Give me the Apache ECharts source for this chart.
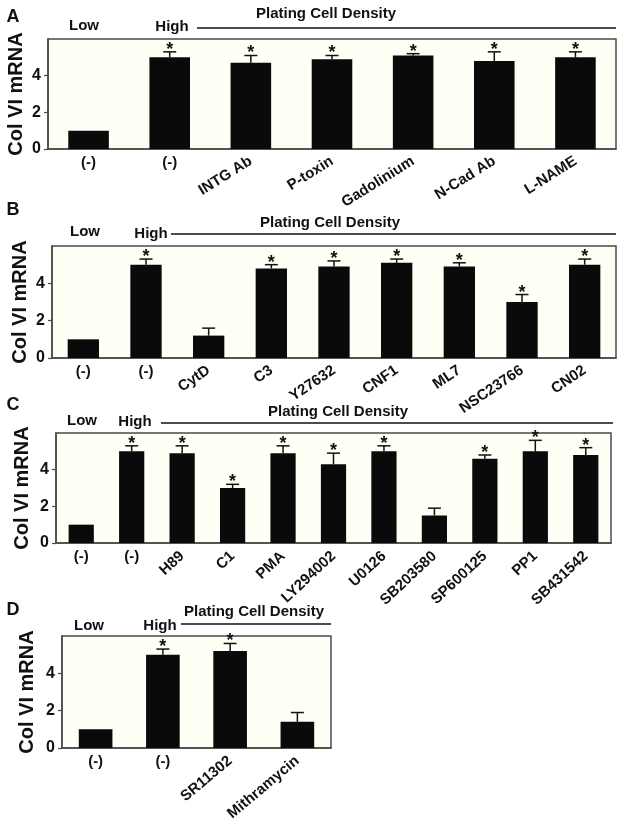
<!DOCTYPE html>
<html><head><meta charset="utf-8">
<script src="https://cdn.jsdelivr.net/npm/echarts@6/dist/echarts.min.js"></script>
<style>html,body{margin:0;padding:0;background:#fff}#c{width:624px;height:825px}</style>
</head><body><div id="c"></div>
<script>
// ---- data ----
const catsA = ['(-)', '(-)', 'INTG Ab', 'P-toxin', 'Gadolinium', 'N-Cad Ab', 'L-NAME'];
const valsA = [1.0, 5.0, 4.7, 4.9, 5.1, 4.8, 5.0];
const errA  = [0, 0.3, 0.4, 0.2, 0.1, 0.5, 0.3];
const sigA  = [0, 1, 1, 1, 1, 1, 1];

const catsB = ['(-)', '(-)', 'CytD', 'C3', 'Y27632', 'CNF1', 'ML7', 'NSC23766', 'CN02'];
const valsB = [1.0, 5.0, 1.2, 4.8, 4.9, 5.1, 4.9, 3.0, 5.0];
const errB  = [0, 0.3, 0.4, 0.2, 0.3, 0.2, 0.2, 0.4, 0.3];
const sigB  = [0, 1, 0, 1, 1, 1, 1, 1, 1];

const catsC = ['(-)', '(-)', 'H89', 'C1', 'PMA', 'LY294002', 'U0126', 'SB203580', 'SP600125', 'PP1', 'SB431542'];
const valsC = [1.0, 5.0, 4.9, 3.0, 4.9, 4.3, 5.0, 1.5, 4.6, 5.0, 4.8];
const errC  = [0, 0.3, 0.4, 0.2, 0.4, 0.6, 0.3, 0.4, 0.2, 0.6, 0.4];
const sigC  = [0, 1, 1, 1, 1, 1, 1, 0, 1, 1, 1];

const catsD = ['(-)', '(-)', 'SR11302', 'Mithramycin'];
const valsD = [1.0, 5.0, 5.2, 1.4];
const errD  = [0, 0.3, 0.4, 0.5];
const sigD  = [0, 1, 1, 0];

const yTicks = [0, 2, 4, 6];
const yTitle = 'Col VI mRNA';
const groupTitle = 'Plating Cell Density';
const lowText = 'Low', highText = 'High';
const panelLetters = ['A', 'B', 'C', 'D'];

// ---- layout ----
const FONT = "'Liberation Sans', Arial, Helvetica, sans-serif";
const INK = '#111';
const FRAME = '#4a4a4a';
const panels = [
  {cats: catsA, vals: valsA, errs: errA, sig: sigA, grid: {left: 48, top: 39, width: 568, height: 110}, rot: 32, gap: 22},
  {cats: catsB, vals: valsB, errs: errB, sig: sigB, grid: {left: 52, top: 246, width: 564, height: 112}, rot: 34, gap: 22},
  {cats: catsC, vals: valsC, errs: errC, sig: sigC, grid: {left: 56, top: 433, width: 555, height: 110}, rot: 43, gap: 24},
  {cats: catsD, vals: valsD, errs: errD, sig: sigD, grid: {left: 62, top: 636, width: 269, height: 112}, rot: 40, gap: 25}
];
const annot = [
  {letter: [13, 17], title: [326, 14], low: [84, 26], high: [172, 27], line: [197, 616, 28]},
  {letter: [13, 210], title: [330, 223], low: [85, 232], high: [151, 234], line: [171, 616, 234]},
  {letter: [13, 405], title: [338, 412], low: [82, 421], high: [135, 422], line: [161, 613, 423]},
  {letter: [13, 610], title: [254, 612], low: [89, 626], high: [160, 626], line: [181, 331, 624]}
];

const grids = [], xAxes = [], yAxes = [], series = [], graphics = [];
panels.forEach((p, i) => {
  grids.push(Object.assign({show: true, backgroundColor: '#fffff6', borderColor: FRAME, borderWidth: 1.5,
    containLabel: false, outerBoundsMode: 'none'}, p.grid));
  const lblBase = {interval: 0, fontSize: 15, fontWeight: 'bold', color: INK, fontFamily: FONT};
  xAxes.push({
    type: 'category', gridIndex: i, data: p.cats, position: 'bottom',
    axisLine: {show: true, lineStyle: {color: FRAME, width: 1.5}},
    axisTick: {show: false},
    axisLabel: Object.assign({}, lblBase, {margin: 6, formatter: v => v === '(-)' ? v : ''})
  });
  xAxes.push({
    type: 'category', gridIndex: i, data: p.cats, position: 'bottom',
    axisLine: {show: false}, axisTick: {show: false},
    axisLabel: Object.assign({}, lblBase, {margin: 11, rotate: p.rot, formatter: v => v === '(-)' ? '' : v})
  });
  yAxes.push({
    type: 'value', gridIndex: i, min: yTicks[0], max: yTicks[yTicks.length - 1], interval: yTicks[1] - yTicks[0],
    axisLine: {show: true, lineStyle: {color: FRAME, width: 1.5}},
    axisTick: {show: true, length: 4, lineStyle: {color: FRAME, width: 1.2}},
    splitLine: {show: false},
    axisLabel: {showMaxLabel: false, margin: 7, fontSize: 16, fontWeight: 'bold', color: INK, fontFamily: FONT},
    name: yTitle, nameLocation: 'middle', nameGap: p.gap, nameMoveOverlap: false,
    nameTextStyle: {fontSize: 20, fontWeight: 'bold', color: INK, fontFamily: FONT}
  });
  series.push({
    type: 'bar', xAxisIndex: 2 * i, yAxisIndex: i, data: p.vals, barWidth: '50%',
    itemStyle: {color: '#0a0a0a'}, silent: true
  });
  series.push({
    type: 'custom', xAxisIndex: 2 * i, yAxisIndex: i, z: 10, silent: true,
    encode: {x: 0, y: 1},
    data: p.cats.map((c, j) => [j, p.vals[j], p.errs[j], p.sig[j]]),
    renderItem: function (params, api) {
      const idx = api.value(0), v = api.value(1), e = api.value(2), s = api.value(3);
      const top = api.coord([idx, v + e]);
      const base = api.coord([idx, v]);
      const children = [];
      if (e > 0) {
        children.push({type: 'line', shape: {x1: top[0], y1: base[1], x2: top[0], y2: top[1]}, style: {stroke: '#111', lineWidth: 1.5}});
        children.push({type: 'line', shape: {x1: top[0] - 6.5, y1: top[1], x2: top[0] + 6.5, y2: top[1]}, style: {stroke: '#111', lineWidth: 1.5}});
      }
      if (s) {
        children.push({type: 'text', style: {text: '*', x: top[0], y: top[1] - 11, align: 'center', verticalAlign: 'top',
          textAlign: 'center', textVerticalAlign: 'top', font: 'bold 18px ' + FONT, fill: '#111'}});
      }
      return {type: 'group', children: children};
    }
  });
  const a = annot[i];
  const txt = (t, pos, size) => ({type: 'text', x: pos[0], y: pos[1], silent: true,
    style: {text: t, align: 'center', verticalAlign: 'middle', textAlign: 'center', textVerticalAlign: 'middle',
      font: 'bold ' + size + 'px ' + FONT, fill: INK}});
  graphics.push(txt(panelLetters[i], a.letter, 18));
  graphics.push(txt(groupTitle, a.title, 15));
  graphics.push(txt(lowText, a.low, 15));
  graphics.push(txt(highText, a.high, 15));
  graphics.push({type: 'line', silent: true, shape: {x1: a.line[0], y1: a.line[2], x2: a.line[1], y2: a.line[2]},
    style: {stroke: '#111', lineWidth: 1.5}});
});

const chart = echarts.init(document.getElementById('c'), null, {renderer: 'canvas'});
chart.setOption({
  animation: false,
  backgroundColor: '#ffffff',
  grid: grids, xAxis: xAxes, yAxis: yAxes, series: series, graphic: graphics
});
</script>
</body></html>
